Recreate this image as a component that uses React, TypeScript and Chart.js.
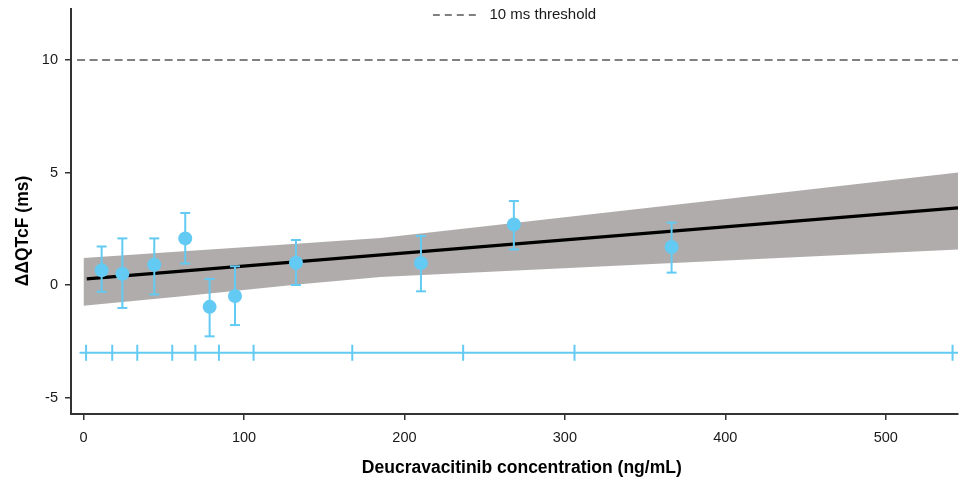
import React, { useEffect, useRef } from 'react';
import { Chart, registerables } from 'chart.js';

Chart.register(...registerables);

// Observed concentration-bin means with 90% CI
const concentrations = [11.3, 24.2, 44.1, 63.4, 78.6, 94.4, 132.4, 210.3, 268.2, 366.5];
const ddqtcf = [0.66, 0.51, 0.91, 2.08, -0.96, -0.48, 1.0, 0.99, 2.7, 1.7];
const ciLower = [-0.29, -1.01, -0.41, 0.96, -2.27, -1.77, 0.01, -0.27, 1.59, 0.56];
const ciUpper = [1.72, 2.08, 2.08, 3.21, 0.28, 0.84, 2.01, 2.19, 3.74, 2.78];

// Model prediction
const fitConc = [2, 545];
const fitValue = [0.28, 3.44];

// Model confidence band
const bandConc = [0, 60, 135, 185, 260, 384, 545];
const bandUpper = [1.21, 1.5, 1.85, 2.1, 2.7, 3.7, 5.01];
const bandLower = [-0.91, -0.5, 0.04, 0.37, 0.62, 1.04, 1.59];

// Concentration deciles
const decileConc = [1.6, 17.9, 33.5, 55.3, 69.7, 84.4, 106.0, 167.5, 236.6, 306.0, 541.6];
const decileLevel = -3;
const decileRange = [-2.5, 545];

// Threshold
const threshold = 10;
const thresholdRange = [-4, 545];
const thresholdLabel = '10 ms threshold';

// Axes
const xTicks = [0, 100, 200, 300, 400, 500];
const yTicks = [-5, 0, 5, 10];
const xRange = [-7.8, 545];
const yRange = [-5.72, 12.27];
const xTitle = 'Deucravacitinib concentration (ng/mL)';
const yTitle = 'ΔΔQTcF (ms)';

const BLUE = '#62CAF3';
const BAND = '#B0ACAB';
const AXIS = '#333333';
const FONT = "'Liberation Sans', Arial, Helvetica, sans-serif";

// Centre the legend horizontally at the top of the plot area (inside it)
const legendInsideTop = {
  id: 'legendInsideTop',
  afterLayout(chart: any) {
    const lg = chart.legend;
    if (!lg || !lg.legendHitBoxes || !lg.legendHitBoxes.length) return;
    const ca = chart.chartArea;
    const hb = lg.legendHitBoxes[0];
    const w = hb.width;
    const h = hb.height;
    const left = (ca.left + ca.right) / 2 - w / 2;
    const top = ca.top + 6 - h / 2;
    lg.left = left;
    lg.right = left + w;
    lg.width = w;
    lg.top = top;
    lg.bottom = top + h;
    lg.height = h;
  },
};

export default function App() {
  const ref = useRef<HTMLCanvasElement | null>(null);

  useEffect(() => {
    if (!ref.current) return;

    const stems: any[] = [];
    const caps: any[] = [];
    concentrations.forEach((c, i) => {
      stems.push({ x: c, y: ciLower[i] }, { x: c, y: ciUpper[i] }, { x: c, y: null });
      caps.push({ x: c, y: ciLower[i] }, { x: c, y: ciUpper[i] });
    });

    const datasets: any[] = [
      {
        type: 'scatter',
        label: 'Observed',
        data: concentrations.map((c, i) => ({ x: c, y: ddqtcf[i] })),
        pointRadius: 7,
        pointBackgroundColor: BLUE,
        pointBorderWidth: 0,
        showLine: false,
        order: 0,
      },
      {
        type: 'scatter',
        label: 'caps',
        data: caps,
        pointStyle: 'line',
        pointRadius: 5,
        pointBorderWidth: 2,
        pointBorderColor: BLUE,
        showLine: false,
        order: 1,
      },
      {
        type: 'line',
        label: 'stems',
        data: stems,
        borderColor: BLUE,
        borderWidth: 2,
        pointRadius: 0,
        spanGaps: false,
        fill: false,
        order: 2,
      },
      {
        type: 'scatter',
        label: 'decile ticks',
        data: decileConc.map((c) => ({ x: c, y: decileLevel })),
        pointStyle: 'line',
        rotation: 90,
        pointRotation: 90,
        pointRadius: 8,
        pointBorderWidth: 2,
        pointBorderColor: BLUE,
        showLine: false,
        order: 3,
      },
      {
        type: 'line',
        label: 'deciles',
        data: decileRange.map((c) => ({ x: c, y: decileLevel })),
        borderColor: BLUE,
        borderWidth: 2,
        pointRadius: 0,
        fill: false,
        order: 4,
      },
      {
        type: 'line',
        label: 'Model',
        data: fitConc.map((c, i) => ({ x: c, y: fitValue[i] })),
        borderColor: '#000000',
        borderWidth: 3.2,
        pointRadius: 0,
        fill: false,
        order: 5,
      },
      {
        type: 'line',
        label: thresholdLabel,
        data: thresholdRange.map((c) => ({ x: c, y: threshold })),
        borderColor: '#808080',
        borderWidth: 2,
        borderDash: [8, 4.5],
        pointRadius: 0,
        fill: false,
        order: 6,
      },
      {
        type: 'line',
        label: 'band upper',
        data: bandConc.map((c, i) => ({ x: c, y: bandUpper[i] })),
        borderWidth: 0,
        borderColor: BAND,
        backgroundColor: BAND,
        pointRadius: 0,
        fill: 8,
        order: 7,
      },
      {
        type: 'line',
        label: 'band lower',
        data: bandConc.map((c, i) => ({ x: c, y: bandLower[i] })),
        borderWidth: 0,
        borderColor: BAND,
        pointRadius: 0,
        fill: false,
        order: 8,
      },
    ];

    const defaultLabels = (Chart as any).defaults.plugins.legend.labels.generateLabels;

    const chart = new Chart(ref.current, {
      type: 'line',
      data: { datasets },
      plugins: [legendInsideTop],
      options: {
        responsive: false,
        animation: false,
        layout: { autoPadding: false, padding: { left: 0, right: 2, top: 9, bottom: 0 } },
        plugins: {
          tooltip: { enabled: false },
          legend: {
            position: 'chartArea',
            align: 'start',
            labels: {
              filter: (item: any) => item.text.trim() === thresholdLabel,
              generateLabels: (ch: any) =>
                defaultLabels(ch).map((item: any) => {
                  const ds = ch.data.datasets[item.datasetIndex];
                  return {
                    ...item,
                    text: ds.label === thresholdLabel ? ' ' + item.text : item.text,
                    lineDash: [7, 5],
                    lineWidth: 2,
                    strokeStyle: '#808080',
                  };
                }),
              usePointStyle: true,
              pointStyle: 'line',
              pointStyleWidth: 45,
              padding: 0,
              color: '#1a1a1a',
              font: { family: FONT, size: 15 },
            },
          },
        },
        scales: {
          x: {
            type: 'linear',
            min: xRange[0],
            max: xRange[1],
            afterFit: (s: any) => {
              s.height = 68;
              s.paddingLeft = 0;
              s.paddingRight = 0;
            },
            afterBuildTicks: (s: any) => {
              s.ticks = xTicks.map((v) => ({ value: v }));
            },
            ticks: {
              padding: 9,
              color: '#1a1a1a',
              font: { family: FONT, size: 14.5 },
              callback: (v: any) => String(v),
            },
            grid: {
              display: true,
              drawOnChartArea: false,
              drawTicks: true,
              tickLength: 6,
              color: AXIS,
              lineWidth: 1.5,
            },
            border: { display: true, color: AXIS, width: 2 },
            title: {
              display: true,
              text: '   ' + xTitle,
              color: '#000',
              font: { family: FONT, size: 17.5, weight: 'bold' },
              padding: { top: 0, bottom: 3 },
            },
          },
          y: {
            type: 'linear',
            min: yRange[0],
            max: yRange[1],
            afterFit: (s: any) => {
              s.width = 71;
              s.paddingTop = 0;
              s.paddingBottom = 0;
            },
            afterBuildTicks: (s: any) => {
              s.ticks = yTicks.map((v) => ({ value: v }));
            },
            ticks: {
              padding: 7,
              color: '#1a1a1a',
              font: { family: FONT, size: 14.5 },
              callback: (v: any) => String(v),
            },
            grid: {
              display: true,
              drawOnChartArea: false,
              drawTicks: true,
              tickLength: 6,
              color: AXIS,
              lineWidth: 1.5,
            },
            border: { display: true, color: AXIS, width: 2 },
            title: {
              display: true,
              text: yTitle + '        ',
              color: '#000',
              font: { family: FONT, size: 17.5, weight: 'bold' },
              padding: { top: 13, bottom: 0 },
            },
          },
        },
      } as any,
    });

    return () => chart.destroy();
  }, []);

  return (
    <div style={{ position: 'absolute', left: 0, top: 0, width: 960, height: 482, background: '#fff' }}>
      <canvas ref={ref} width={960} height={482} style={{ display: 'block' }} />
    </div>
  );
}
